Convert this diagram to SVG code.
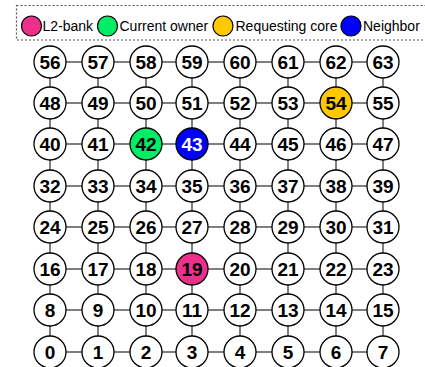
<svg xmlns="http://www.w3.org/2000/svg" width="425" height="367" viewBox="0 0 425 367">
<style>
.n circle{fill:#fff;stroke:#000;stroke-width:1.3}
.n text{font-family:"Liberation Sans",Arial,sans-serif;font-weight:bold;font-size:19px;text-anchor:middle;fill:#000}
.lg{font-family:"Liberation Sans",Arial,sans-serif;font-size:14px;fill:#000}
.lc{stroke:#000;stroke-width:1.2}
#connectors line{stroke:#555;stroke-width:1.5}
</style>
<rect width="425" height="367" fill="#fff"/>
<g id="legend">
<rect x="16.5" y="5.5" width="420" height="34.5" fill="none" stroke="#555" stroke-width="1.2" stroke-dasharray="2,2"/>
<circle class="lc" cx="31.5" cy="26" r="10" fill="#ee2f8c"/>
<text class="lg" x="42.5" y="31">L2-bank</text>
<circle class="lc" cx="107.5" cy="26" r="10" fill="#00ee66"/>
<text class="lg" x="119.5" y="31">Current owner</text>
<circle class="lc" cx="223" cy="26" r="10" fill="#ffc800"/>
<text class="lg" x="235.5" y="31">Requesting core</text>
<circle class="lc" cx="351" cy="26" r="10" fill="#0000ff"/>
<text class="lg" x="363" y="31">Neighbor</text>
</g>
<g id="connectors">
<line x1="50" y1="62" x2="383" y2="62"/>
<line x1="50" y1="103" x2="383" y2="103"/>
<line x1="50" y1="144" x2="383" y2="144"/>
<line x1="50" y1="186" x2="383" y2="186"/>
<line x1="50" y1="227" x2="383" y2="227"/>
<line x1="50" y1="269" x2="383" y2="269"/>
<line x1="50" y1="310" x2="383" y2="310"/>
<line x1="50" y1="352" x2="383" y2="352"/>
<line x1="50" y1="62" x2="50" y2="352"/>
<line x1="98" y1="62" x2="98" y2="352"/>
<line x1="146" y1="62" x2="146" y2="352"/>
<line x1="192" y1="62" x2="192" y2="352"/>
<line x1="240" y1="62" x2="240" y2="352"/>
<line x1="288" y1="62" x2="288" y2="352"/>
<line x1="336" y1="62" x2="336" y2="352"/>
<line x1="383" y1="62" x2="383" y2="352"/>
</g>
<g id="n56" class="n"><circle cx="50" cy="62" r="16"/><text x="50" y="69">56</text></g>
<g id="n57" class="n"><circle cx="98" cy="62" r="16"/><text x="98" y="69">57</text></g>
<g id="n58" class="n"><circle cx="146" cy="62" r="16"/><text x="146" y="69">58</text></g>
<g id="n59" class="n"><circle cx="192" cy="62" r="16"/><text x="192" y="69">59</text></g>
<g id="n60" class="n"><circle cx="240" cy="62" r="16"/><text x="240" y="69">60</text></g>
<g id="n61" class="n"><circle cx="288" cy="62" r="16"/><text x="288" y="69">61</text></g>
<g id="n62" class="n"><circle cx="336" cy="62" r="16"/><text x="336" y="69">62</text></g>
<g id="n63" class="n"><circle cx="383" cy="62" r="16"/><text x="383" y="69">63</text></g>
<g id="n48" class="n"><circle cx="50" cy="103" r="16"/><text x="50" y="110">48</text></g>
<g id="n49" class="n"><circle cx="98" cy="103" r="16"/><text x="98" y="110">49</text></g>
<g id="n50" class="n"><circle cx="146" cy="103" r="16"/><text x="146" y="110">50</text></g>
<g id="n51" class="n"><circle cx="192" cy="103" r="16"/><text x="192" y="110">51</text></g>
<g id="n52" class="n"><circle cx="240" cy="103" r="16"/><text x="240" y="110">52</text></g>
<g id="n53" class="n"><circle cx="288" cy="103" r="16"/><text x="288" y="110">53</text></g>
<g id="n54" class="n"><circle cx="336" cy="103" r="16" style="fill:#ffc800"/><text x="336" y="110">54</text></g>
<g id="n55" class="n"><circle cx="383" cy="103" r="16"/><text x="383" y="110">55</text></g>
<g id="n40" class="n"><circle cx="50" cy="144" r="16"/><text x="50" y="151">40</text></g>
<g id="n41" class="n"><circle cx="98" cy="144" r="16"/><text x="98" y="151">41</text></g>
<g id="n42" class="n"><circle cx="146" cy="144" r="16" style="fill:#00ee66"/><text x="146" y="151">42</text></g>
<g id="n43" class="n"><circle cx="192" cy="144" r="16" style="fill:#0000ff"/><text x="192" y="151" style="fill:#fff">43</text></g>
<g id="n44" class="n"><circle cx="240" cy="144" r="16"/><text x="240" y="151">44</text></g>
<g id="n45" class="n"><circle cx="288" cy="144" r="16"/><text x="288" y="151">45</text></g>
<g id="n46" class="n"><circle cx="336" cy="144" r="16"/><text x="336" y="151">46</text></g>
<g id="n47" class="n"><circle cx="383" cy="144" r="16"/><text x="383" y="151">47</text></g>
<g id="n32" class="n"><circle cx="50" cy="186" r="16"/><text x="50" y="193">32</text></g>
<g id="n33" class="n"><circle cx="98" cy="186" r="16"/><text x="98" y="193">33</text></g>
<g id="n34" class="n"><circle cx="146" cy="186" r="16"/><text x="146" y="193">34</text></g>
<g id="n35" class="n"><circle cx="192" cy="186" r="16"/><text x="192" y="193">35</text></g>
<g id="n36" class="n"><circle cx="240" cy="186" r="16"/><text x="240" y="193">36</text></g>
<g id="n37" class="n"><circle cx="288" cy="186" r="16"/><text x="288" y="193">37</text></g>
<g id="n38" class="n"><circle cx="336" cy="186" r="16"/><text x="336" y="193">38</text></g>
<g id="n39" class="n"><circle cx="383" cy="186" r="16"/><text x="383" y="193">39</text></g>
<g id="n24" class="n"><circle cx="50" cy="227" r="16"/><text x="50" y="234">24</text></g>
<g id="n25" class="n"><circle cx="98" cy="227" r="16"/><text x="98" y="234">25</text></g>
<g id="n26" class="n"><circle cx="146" cy="227" r="16"/><text x="146" y="234">26</text></g>
<g id="n27" class="n"><circle cx="192" cy="227" r="16"/><text x="192" y="234">27</text></g>
<g id="n28" class="n"><circle cx="240" cy="227" r="16"/><text x="240" y="234">28</text></g>
<g id="n29" class="n"><circle cx="288" cy="227" r="16"/><text x="288" y="234">29</text></g>
<g id="n30" class="n"><circle cx="336" cy="227" r="16"/><text x="336" y="234">30</text></g>
<g id="n31" class="n"><circle cx="383" cy="227" r="16"/><text x="383" y="234">31</text></g>
<g id="n16" class="n"><circle cx="50" cy="269" r="16"/><text x="50" y="276">16</text></g>
<g id="n17" class="n"><circle cx="98" cy="269" r="16"/><text x="98" y="276">17</text></g>
<g id="n18" class="n"><circle cx="146" cy="269" r="16"/><text x="146" y="276">18</text></g>
<g id="n19" class="n"><circle cx="192" cy="269" r="16" style="fill:#ee2f8c"/><text x="192" y="276">19</text></g>
<g id="n20" class="n"><circle cx="240" cy="269" r="16"/><text x="240" y="276">20</text></g>
<g id="n21" class="n"><circle cx="288" cy="269" r="16"/><text x="288" y="276">21</text></g>
<g id="n22" class="n"><circle cx="336" cy="269" r="16"/><text x="336" y="276">22</text></g>
<g id="n23" class="n"><circle cx="383" cy="269" r="16"/><text x="383" y="276">23</text></g>
<g id="n8" class="n"><circle cx="50" cy="310" r="16"/><text x="50" y="317">8</text></g>
<g id="n9" class="n"><circle cx="98" cy="310" r="16"/><text x="98" y="317">9</text></g>
<g id="n10" class="n"><circle cx="146" cy="310" r="16"/><text x="146" y="317">10</text></g>
<g id="n11" class="n"><circle cx="192" cy="310" r="16"/><text x="192" y="317">11</text></g>
<g id="n12" class="n"><circle cx="240" cy="310" r="16"/><text x="240" y="317">12</text></g>
<g id="n13" class="n"><circle cx="288" cy="310" r="16"/><text x="288" y="317">13</text></g>
<g id="n14" class="n"><circle cx="336" cy="310" r="16"/><text x="336" y="317">14</text></g>
<g id="n15" class="n"><circle cx="383" cy="310" r="16"/><text x="383" y="317">15</text></g>
<g id="n0" class="n"><circle cx="50" cy="352" r="16"/><text x="50" y="359">0</text></g>
<g id="n1" class="n"><circle cx="98" cy="352" r="16"/><text x="98" y="359">1</text></g>
<g id="n2" class="n"><circle cx="146" cy="352" r="16"/><text x="146" y="359">2</text></g>
<g id="n3" class="n"><circle cx="192" cy="352" r="16"/><text x="192" y="359">3</text></g>
<g id="n4" class="n"><circle cx="240" cy="352" r="16"/><text x="240" y="359">4</text></g>
<g id="n5" class="n"><circle cx="288" cy="352" r="16"/><text x="288" y="359">5</text></g>
<g id="n6" class="n"><circle cx="336" cy="352" r="16"/><text x="336" y="359">6</text></g>
<g id="n7" class="n"><circle cx="383" cy="352" r="16"/><text x="383" y="359">7</text></g>
</svg>
